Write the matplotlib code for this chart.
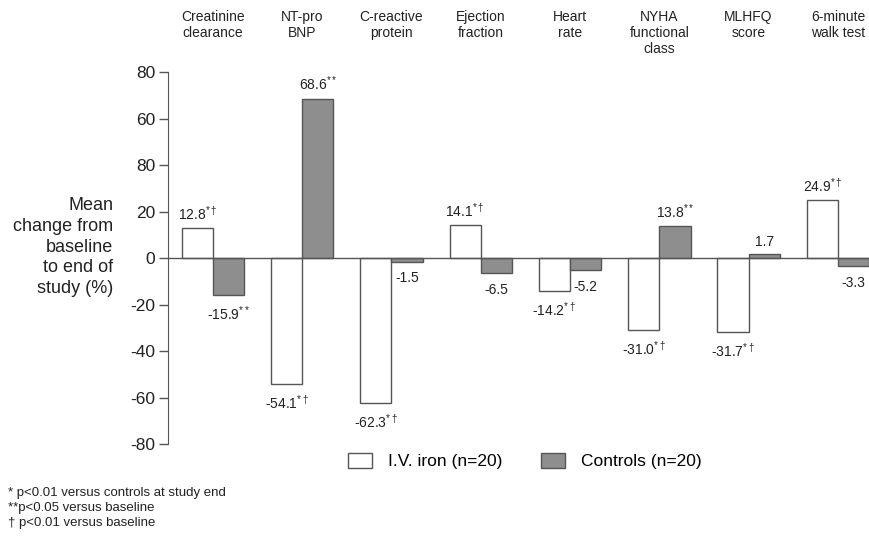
import numpy as np
import matplotlib
matplotlib.use("Agg")
import matplotlib.pyplot as plt
from matplotlib.patches import Patch

plt.rcParams["font.family"] = ["Liberation Sans", "DejaVu Sans"]
plt.rcParams["mathtext.fontset"] = "custom"
plt.rcParams["mathtext.rm"] = "Liberation Sans"
plt.rcParams["mathtext.it"] = "Liberation Sans"

# --- Data ---
categories = ["Creatinine\nclearance", "NT-pro\nBNP", "C-reactive\nprotein", "Ejection\nfraction",
              "Heart\nrate", "NYHA\nfunctional\nclass", "MLHFQ\nscore", "6-minute\nwalk test"]
iron = [12.8, -54.1, -62.3, 14.1, -14.2, -31.0, -31.7, 24.9]
controls = [-15.9, 68.6, -1.5, -6.5, -5.2, 13.8, 1.7, -3.3]
iron_sig = ["*\\dagger"] * 8
controls_sig = ["**", "**", "", "", "", "**", "", ""]
yticks = [80, 60, 40, 20, 0, -20, -40, -60, -80]
ytick_labels = ["80", "60", "80", "20", "0", "-20", "-40", "-60", "-80"]

edge = "#555555"
gray = "#8e8e8e"
txt_c = "#222222"

fig = plt.figure(figsize=(8.7, 5.43), dpi=100)
ax = fig.add_axes([0.193, 0.182, 0.806, 0.685])

x = np.arange(len(categories))
w = 0.35
b1 = ax.bar(x - w / 2, iron, w, color="white", edgecolor=edge, linewidth=1, zorder=2)
b2 = ax.bar(x + w / 2, controls, w, color=gray, edgecolor=edge, linewidth=1, zorder=2)


def label(bars, vals, sigs):
    for bar, v, s in zip(bars, vals, sigs):
        txt = f"{v:.1f}"
        if s:
            txt += f"$^{{{s}}}$"
        off = 4 if v >= 0 else -7
        ax.annotate(txt, (bar.get_x() + bar.get_width() / 2, v), xytext=(0, off),
                    textcoords="offset points", ha="center",
                    va="bottom" if v >= 0 else "top", fontsize=10, color=txt_c)


label(b1, iron, iron_sig)
label(b2, controls, controls_sig)

ax.axhline(0, color=edge, linewidth=1, zorder=3)
ax.set_xlim(-0.504, 7.35)
ax.set_ylim(-80, 80)
ax.set_yticks(yticks)
ax.set_yticklabels(ytick_labels, fontsize=12.5, color=txt_c)
ax.tick_params(axis="y", length=6.5, color=edge, width=1, pad=2.5)
ax.set_xticks([])
for s in ["top", "right", "bottom"]:
    ax.spines[s].set_visible(False)
ax.spines["left"].set_color(edge)

# category labels on top
for xi, c in zip(x, categories):
    ax.text(xi, 1.168, c, transform=ax.get_xaxis_transform(), ha="center", va="top",
            fontsize=10, color=txt_c, linespacing=1.2)

fig.text(0.130, 0.545, "Mean\nchange from\nbaseline\nto end of\nstudy (%)", ha="right", va="center",
         fontsize=13, color=txt_c, linespacing=1.3)

handles = [Patch(facecolor="white", edgecolor=edge, label="I.V. iron (n=20)"),
           Patch(facecolor=gray, edgecolor=edge, label="Controls (n=20)")]
fig.legend(handles=handles, loc="center", bbox_to_anchor=(0.603, 0.151), ncol=2, frameon=False,
           fontsize=12.5, handlelength=1.4, handleheight=0.95, columnspacing=2.2, handletextpad=0.9)

fig.text(0.009, 0.087, "* p<0.01 versus controls at study end", fontsize=9.5, color=txt_c)
fig.text(0.009, 0.059, "**p<0.05 versus baseline", fontsize=9.5, color=txt_c)
fig.text(0.009, 0.031, "\u2020 p<0.01 versus baseline", fontsize=9.5, color=txt_c)

fig.savefig("out.png", dpi=100)
